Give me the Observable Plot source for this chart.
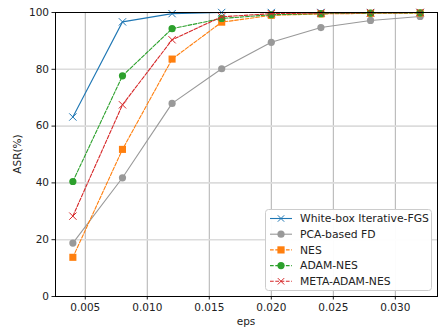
<!DOCTYPE html>
<html><head><meta charset="utf-8">
<script src="https://cdn.jsdelivr.net/npm/d3@7"></script>
<script src="https://cdn.jsdelivr.net/npm/@observablehq/plot@0.6"></script>
<style>
body{margin:0;background:#fff;}
svg{font-family:"DejaVu Sans",sans-serif;}
</style></head><body>
<div id="chart"></div>
<script>
const eps = [0.004, 0.008, 0.012, 0.016, 0.020, 0.024, 0.028, 0.032];
const whiteBox = [63.2, 96.7, 99.6, 100, 100, 100, 100, 100];
const pcaFD = [18.8, 41.8, 68.0, 80.2, 89.5, 94.7, 97.2, 98.6];
const nes = [13.8, 51.8, 83.6, 96.6, 99.0, 99.5, 99.7, 99.8];
const adamNes = [40.5, 77.7, 94.3, 97.9, 99.2, 99.6, 99.8, 99.9];
const metaAdamNes = [28.3, 67.5, 90.4, 98.5, 99.6, 99.8, 99.9, 100];
const seriesNames = ["White-box Iterative-FGS", "PCA-based FD", "NES", "ADAM-NES", "META-ADAM-NES"];
const xTicks = [0.005, 0.010, 0.015, 0.020, 0.025, 0.030];
const yTicks = [0, 20, 40, 60, 80, 100];

const seriesValues = [whiteBox, pcaFD, nes, adamNes, metaAdamNes];
const colors = ["#1f77b4", "#999999", "#ff7f0e", "#2ca02c", "#d62728"];
const symbols = ["times", "circle", "square", "circle", "times"];
const dashes = [null, null, "3.7,1.6", "3.7,1.6", "3.7,1.6"];

const marks = [
  Plot.ruleX(xTicks, {stroke: "#b0b0b0", strokeWidth: 1}),
  Plot.ruleY(yTicks.slice(1, -1), {stroke: "#dcdcdc", strokeWidth: 1.6}),
];
seriesNames.forEach((name, i) => {
  const data = eps.map((e, j) => ({eps: e, v: seriesValues[i][j]}));
  marks.push(Plot.line(data, {x: "eps", y: "v", stroke: colors[i], strokeWidth: 1.1, strokeDasharray: dashes[i]}));
  if (symbols[i] === "times") {
    marks.push(Plot.dot(data, {x: "eps", y: "v", symbol: "times", stroke: colors[i], strokeWidth: 1, r: 3.4}));
  } else if (symbols[i] === "square") {
    marks.push(Plot.dot(data, {x: "eps", y: "v", symbol: "square", fill: colors[i], stroke: "none", r: 4}));
  } else {
    marks.push(Plot.dot(data, {x: "eps", y: "v", symbol: "circle", fill: colors[i], stroke: "none", r: 3.6}));
  }
});
marks.push(Plot.frame({stroke: "#000", strokeWidth: 1}));

const chart = Plot.plot({
  width: 439, height: 329,
  marginLeft: 55, marginRight: 2, marginTop: 12, marginBottom: 33,
  style: {fontFamily: "DejaVu Sans, sans-serif", fontSize: "10.5px", color: "#222", background: "#fff"},
  x: {domain: [0.0026, 0.0334], ticks: xTicks, tickFormat: d3.format(".3f"), label: null, tickSize: 3.5, tickPadding: 4},
  y: {domain: [0, 100], ticks: yTicks, label: null, tickSize: 3.5, tickPadding: 3},
  marks
});
document.getElementById("chart").appendChild(chart);

const svg = d3.select(chart);
svg.append("text").attr("x", 246).attr("y", 325).attr("text-anchor", "middle")
  .attr("font-size", 10.5).attr("fill", "#222").text("eps");
svg.append("text").attr("transform", "translate(21,154) rotate(-90)").attr("text-anchor", "middle")
  .attr("font-size", 10.5).attr("fill", "#222").text("ASR(%)");

const lg = svg.append("g").attr("text-anchor", "start");
lg.append("rect").attr("x", 265.5).attr("y", 209.5).attr("width", 166).attr("height", 81)
  .attr("rx", 3).attr("fill", "#fff").attr("fill-opacity", 0.95).attr("stroke", "#cccccc").attr("stroke-width", 1);
seriesNames.forEach((name, i) => {
  const y = 218.5 + i * 15.7;
  lg.append("line").attr("x1", 270).attr("x2", 292).attr("y1", y).attr("y2", y)
    .attr("stroke", colors[i]).attr("stroke-width", 1.1).attr("stroke-dasharray", dashes[i]);
  const cx = 281;
  if (symbols[i] === "times") {
    const s = 3.2;
    lg.append("path").attr("d", `M${cx-s},${y-s}L${cx+s},${y+s}M${cx-s},${y+s}L${cx+s},${y-s}`)
      .attr("stroke", colors[i]).attr("stroke-width", 1);
  } else if (symbols[i] === "square") {
    lg.append("rect").attr("x", cx - 3.6).attr("y", y - 3.6).attr("width", 7.2).attr("height", 7.2).attr("fill", colors[i]);
  } else {
    lg.append("circle").attr("cx", cx).attr("cy", y).attr("r", 3.6).attr("fill", colors[i]);
  }
  lg.append("text").attr("x", 300).attr("y", y).attr("dy", "0.35em").attr("font-size", 10.8)
    .attr("text-anchor", "start").attr("fill", "#222").text(name);
});
</script>
</body></html>
